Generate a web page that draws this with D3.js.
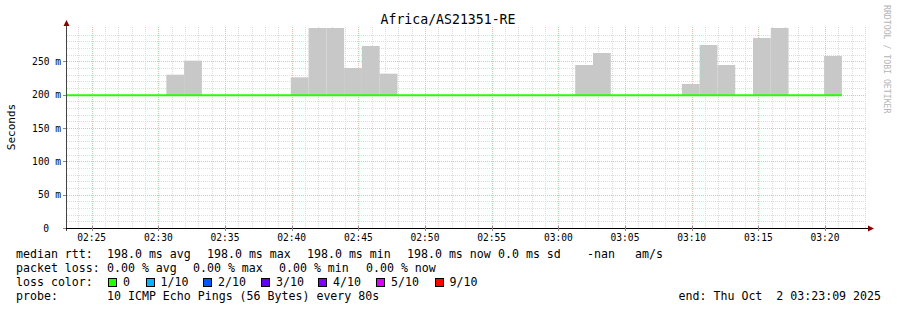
<!DOCTYPE html>
<html>
<head>
<meta charset="utf-8">
<script src="https://cdn.jsdelivr.net/npm/d3@7"></script>
<style>
  html, body { margin: 0; padding: 0; background: #fff; }
  text { font-family: "DejaVu Sans Mono", monospace; fill: #000; }
</style>
</head>
<body>
<div id="chart"></div>
<script>
;(function(){
  const W = 897, H = 310;

  // time window of the graph (one hour ending at the "end" stamp)
  const startTime = new Date(2025, 9, 2, 2, 23, 9),
        endTime   = new Date(2025, 9, 2, 3, 23, 9),
        dataEnd   = new Date(2025, 9, 2, 3, 21, 16),
        stepSec   = 80;

  // smoke (max ping) per 80s step, oldest first; null = no spread above median
  const smokeMax = [
    null, null, null, null, null, null, 230, 251, null, null,
    null, null, null, 226, 300, 300, 240, 273, 231.5, null,
    null, null, null, null, null, null, null, null, null, 244.5,
    262.5, null, null, null, null, 216, 274.5, 244.5, null, 285,
    300, null, null, 258
  ];
  // median rtt per step (ms)
  const median = [
    198, 198, 198, 198, 198, 198, 198, 198, 198, 198,
    198, 198, 198, 198, 198, 198, 198, 198, 198, 198,
    198, 198, 198, 198, 198, 198, 198, 198, 198, 198,
    198, 198, 198, 198, 198, 198, 198, 198, 198, 198,
    198, 198, 198, 198
  ];

  const yTicks      = [0, 50, 100, 150, 200, 250];
  const yTickLabels = ['0', '50 m', '100 m', '150 m', '200 m', '250 m'];

  const lossLabels = ['0', '1/10', '2/10', '3/10', '4/10', '5/10', '9/10'];
  const lossColors = ['#26ff00', '#00b8ff', '#0059ff', '#5e00ff', '#7e00ff', '#dd00ff', '#ff0000'];

  const legendRtt = [
    ['median rtt:', 16], ['198.0 ms avg', 107], ['198.0 ms max', 207], ['198.0 ms min', 307],
    ['198.0 ms now', 407], ['0.0 ms sd', 498], ['-nan', 587], ['am/s', 635]
  ];
  const legendLoss = [
    ['packet loss:', 16], ['0.00 % avg', 107], ['0.00 % max', 193], ['0.00 % min', 279], ['0.00 % now', 366]
  ];

  const x = d3.scaleTime().domain([startTime, endTime]).range([67, 867]);
  const y = d3.scaleLinear().domain([0, 300]).range([228, 28]);

  const svg = d3.select('#chart')
    .append('svg')
      .attr('width', W)
      .attr('height', H);

  svg.append('rect').attr('width', W).attr('height', H).attr('fill', '#fff');

  svg.append('defs').append('clipPath').attr('id', 'plot')
    .append('rect').attr('x', 67).attr('y', 27).attr('width', 800).attr('height', 201);

  const n = smokeMax.length;
  const binStart = i => new Date(dataEnd.getTime() - (n - i) * stepSec * 1000),
        binEnd   = i => new Date(dataEnd.getTime() - (n - i - 1) * stepSec * 1000);

  const px = v => Math.round(v) + 0.5;

  // minor grid
  const g = svg.append('g');
  const minorColor = '#dcdcdc', majorColor = '#f6b4b4';
  g.selectAll('.vmin')
    .data(x.ticks(d3.timeMinute.every(1)).filter(d => d.getMinutes() % 5))
    .enter().append('line')
      .attr('x1', d => px(x(d))).attr('x2', d => px(x(d)))
      .attr('y1', 27).attr('y2', 228)
      .attr('stroke', minorColor).attr('stroke-dasharray', '1,1');
  g.selectAll('.hmin')
    .data(d3.range(10, 300, 10).filter(v => v % 50))
    .enter().append('line')
      .attr('x1', 67).attr('x2', 867)
      .attr('y1', d => px(y(d))).attr('y2', d => px(y(d)))
      .attr('stroke', minorColor).attr('stroke-dasharray', '1,1');

  // major grid
  g.selectAll('.vmaj')
    .data(x.ticks(d3.timeMinute.every(5)))
    .enter().append('line')
      .attr('x1', d => px(x(d))).attr('x2', d => px(x(d)))
      .attr('y1', 27).attr('y2', 228)
      .attr('stroke', majorColor).attr('stroke-dasharray', '1,1');
  g.selectAll('.hmaj')
    .data(yTicks.filter(v => v > 0))
    .enter().append('line')
      .attr('x1', 67).attr('x2', 867)
      .attr('y1', d => px(y(d))).attr('y2', d => px(y(d)))
      .attr('stroke', majorColor).attr('stroke-dasharray', '1,1');

  // smoke
  const plot = svg.append('g').attr('clip-path', 'url(#plot)');
  plot.selectAll('rect.smoke')
    .data(smokeMax.map((v, i) => ({ v, i })).filter(d => d.v != null))
    .enter().append('rect')
      .attr('class', 'smoke')
      .attr('x', d => x(binStart(d.i)))
      .attr('width', d => x(binEnd(d.i)) - x(binStart(d.i)))
      .attr('y', d => y(d.v))
      .attr('height', d => y(median[d.i]) - y(d.v))
      .attr('fill', '#c8c8c8');

  // median line
  const line = d3.line()
    .x(d => x(d.t))
    .y(d => y(d.v))
    .curve(d3.curveStepBefore);
  const medPts = [{ t: binStart(0), v: median[0] }]
    .concat(median.map((v, i) => ({ t: binEnd(i), v })));
  plot.append('path')
    .attr('d', line(medPts))
    .attr('transform', 'translate(0,-0.8)')
    .attr('fill', 'none')
    .attr('stroke', lossColors[0])
    .attr('stroke-width', 2);

  // axes
  svg.append('line').attr('x1', 66.5).attr('x2', 66.5).attr('y1', 231).attr('y2', 24)
    .attr('stroke', '#444');
  svg.append('line').attr('x1', 63).attr('x2', 869).attr('y1', 228.5).attr('y2', 228.5)
    .attr('stroke', '#000');
  svg.append('path').attr('d', 'M63.5,26 L66.5,20 L69.5,26 Z').attr('fill', '#8b0000');
  svg.append('path').attr('d', 'M868,225.5 L874,228.5 L868,231.5 Z').attr('fill', '#8b0000');

  // tick marks
  svg.selectAll('.xt')
    .data(x.ticks(d3.timeMinute.every(5)))
    .enter().append('line')
      .attr('x1', d => px(x(d))).attr('x2', d => px(x(d)))
      .attr('y1', 226).attr('y2', 231).attr('stroke', '#888');
  svg.selectAll('.yt')
    .data(yTicks)
    .enter().append('line')
      .attr('x1', 63).attr('x2', 66)
      .attr('y1', d => px(y(d))).attr('y2', d => px(y(d))).attr('stroke', '#888');

  // tick labels
  const fmt = d3.timeFormat('%H:%M');
  svg.selectAll('.xl')
    .data(x.ticks(d3.timeMinute.every(5)))
    .enter().append('text')
      .attr('x', d => x(d)).attr('y', 241)
      .attr('text-anchor', 'middle')
      .style('font-size', '9.6px')
      .text(d => fmt(d));
  svg.selectAll('.yl')
    .data(yTicks)
    .enter().append('text')
      .attr('x', (d, i) => i === 0 ? 49 : 61)
      .attr('y', d => y(d) + 3.5)
      .attr('text-anchor', 'end')
      .style('font-size', '9.6px')
      .text((d, i) => yTickLabels[i]);

  // title and axis label
  svg.append('text').attr('x', 448).attr('y', 24).attr('text-anchor', 'middle')
    .style('font-size', '13.2px').text('Africa/AS21351-RE');
  svg.append('text').attr('transform', 'translate(15,127) rotate(-90)')
    .attr('text-anchor', 'middle').style('font-size', '11px').text('Seconds');
  svg.append('text').attr('transform', 'translate(884,5) rotate(90)')
    .attr('text-anchor', 'start').style('font-size', '8.2px').style('fill', '#b4b4b4')
    .text('RRDTOOL / TOBI OETIKER');

  // legend
  const legendFont = '11.6px';
  svg.selectAll('.lr').data(legendRtt).enter().append('text')
    .attr('x', d => d[1]).attr('y', 258).style('font-size', legendFont).text(d => d[0]);
  svg.selectAll('.ll').data(legendLoss).enter().append('text')
    .attr('x', d => d[1]).attr('y', 272).style('font-size', legendFont).text(d => d[0]);
  svg.append('text').attr('x', 16).attr('y', 286).style('font-size', legendFont).text('loss color:');

  const swX = [108, 145.5, 203, 261, 318, 376, 434.5];
  const sw = svg.selectAll('.sw').data(lossLabels).enter().append('g');
  sw.append('rect')
    .attr('x', (d, i) => Math.round(swX[i]) + 0.5).attr('y', 278.5)
    .attr('width', 8).attr('height', 8)
    .attr('fill', (d, i) => lossColors[i]).attr('stroke', '#000');
  sw.append('text')
    .attr('x', (d, i) => swX[i] + 15).attr('y', 286)
    .style('font-size', legendFont).text(d => d);

  svg.append('text').attr('x', 16).attr('y', 300).style('font-size', legendFont).text('probe:');
  svg.append('text').attr('x', 107).attr('y', 300).style('font-size', legendFont)
    .text('10 ICMP Echo Pings (56 Bytes) every 80s');
  svg.append('text').attr('x', 881).attr('y', 300).attr('text-anchor', 'end')
    .style('font-size', legendFont).style('white-space', 'pre')
    .attr('xml:space', 'preserve')
    .text('end: Thu Oct  2 03:23:09 2025');
})();
</script>
</body>
</html>
